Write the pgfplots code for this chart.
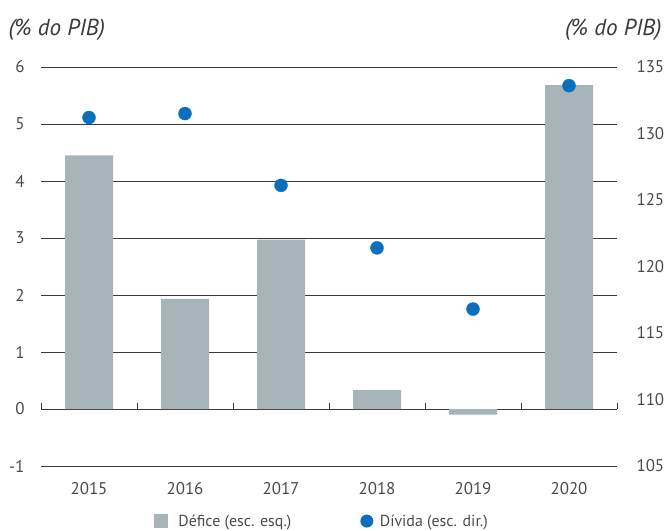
\documentclass[border=0pt]{standalone}
\usepackage{fontspec}
\setmainfont{PT Sans}
\usepackage{pgfplots}
\pgfplotsset{compat=1.18}
\definecolor{barc}{HTML}{A7B5BA}
\definecolor{dotc}{HTML}{0B70BC}
\definecolor{gridc}{HTML}{3A3A3A}
\definecolor{txtc}{HTML}{4A4A4A}
\begin{document}
\begin{tikzpicture}[x=1bp,y=1bp]
\path[use as bounding box] (0,0) rectangle (664,-531);
\begin{axis}[
  at={(41bp,-466bp)}, anchor=south west, scale only axis,
  width=576bp, height=399bp,
  xmin=-0.5, xmax=5.5, ymin=-1, ymax=6,
  xtick={0,1,2,3,4,5},
  xticklabels={2015,2016,2017,2018,2019,2020},
  ytick={-1,0,1,2,3,4,5,6},
  yticklabels={-1,0,1,2,3,4,5,6},
  ymajorgrids, grid style={gridc, line width=0.7bp},
  axis line style={draw=none}, major tick length=0pt,
  tick label style={font=\fontsize{17}{19}\selectfont, text=txtc},
  xticklabel style={yshift=-13bp},
  yticklabel style={xshift=-13bp},
  ybar, bar width=0.5,
  clip=false,
]
\addplot[fill=barc, draw=none] coordinates {(0,4.45) (1,1.93) (2,2.97) (3,0.33) (4,-0.1) (5,5.68)};
\pgfplotsinvokeforeach{-0.5,0.5,1.5,2.5,3.5,4.5,5.5}{
  \draw[gridc, line width=0.7bp] (axis cs:#1,0) -- ++(0bp,6bp);
}
\end{axis}
\begin{axis}[
  at={(41bp,-466bp)}, anchor=south west, scale only axis,
  width=576bp, height=399bp,
  xmin=-0.5, xmax=5.5, ymin=105, ymax=135,
  axis y line*=right, axis x line=none,
  ytick={105,110,115,120,125,130,135},
  yticklabels={105,110,115,120,125,130,135},
  axis line style={draw=none}, major tick length=0pt,
  tick label style={font=\fontsize{17}{19}\selectfont, text=txtc},
  yticklabel style={xshift=16bp},
  clip=false,
  legend columns=2,
  legend style={at={(0.488,-0.138)}, anchor=center, draw=none, fill=none,
    font=\fontsize{16}{18}\selectfont, text=txtc,
    /tikz/every even column/.append style={column sep=67bp}},
]
\addlegendimage{legend image code/.code={\fill[barc, draw=none] (0bp,-7bp) rectangle (14bp,7bp); \path[draw=none, fill=none] (0bp,0bp) -- (22bp,0bp);}}
\addlegendentry{Défice (esc. esq.)}
\addplot[only marks, mark=*, mark size=6.5bp, color=dotc,
  legend image code/.code={\fill[dotc, draw=none] (6.5bp,0bp) circle (6.5bp); \path[draw=none, fill=none] (0bp,0bp) -- (17.5bp,0bp);}]
  coordinates {(0,131.2) (1,131.5) (2,126.1) (3,121.4) (4,116.8) (5,133.6)};
\addlegendentry{Dívida (esc. dir.)}
\end{axis}
\node[anchor=west, font=\itshape\fontsize{23.2}{25}\selectfont, text=gridc] at (5,-30) {(\% do PIB)};
\node[anchor=east, font=\itshape\fontsize{23.2}{25}\selectfont, text=gridc] at (665,-30) {(\% do PIB)};
\end{tikzpicture}
\end{document}
